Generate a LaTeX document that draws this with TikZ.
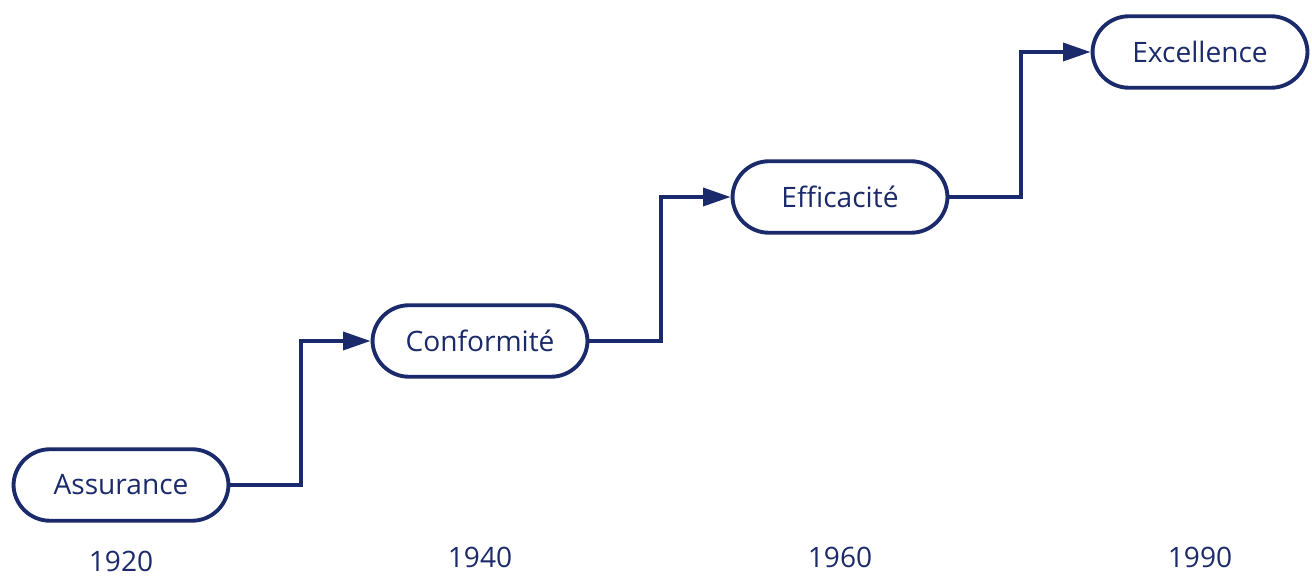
\documentclass[tikz,border=0pt]{standalone}
\usepackage{fontspec}
\setmainfont{Open Sans}
\usepackage{xcolor}
\usetikzlibrary{arrows.meta}
\usetikzlibrary{calc}
\usetikzlibrary{positioning}
\definecolor{navy}{HTML}{1B2A6B}

\begin{document}
\begin{tikzpicture}[->,>={Triangle[length=5.5mm,width=3.6mm]},line width=2pt,draw=navy]
 				 \tikzstyle{etape}=[rounded corners=0.73cm, draw=navy, fill=white, text=navy, line width=2.2pt,
 				                   minimum width=4.3cm, minimum height=1.43cm, font=\fontsize{16}{19}\selectfont]
 				 \tikzstyle{annee}=[text=navy, font=\fontsize{16}{19}\selectfont]
 				 \useasboundingbox (0,0) rectangle (26.24,11.52);
 					 \node[etape] (A) at (2.42,1.82)   {Assurance};
  					 \node[etape] (B) at (9.60,4.70)   {Conformité};
  					 \node[etape] (C) at (16.80,7.58)  {Efficacité};
  					 \node[etape] (D) at (24.00,10.48) {Excellence};
 					 \node[annee] (a1) at (2.42,0.30)  {1920};
 					 \node[annee] (a2) at (9.60,0.38)  {1940};
 					 \node[annee] (a3) at (16.80,0.38) {1960};
 					 \node[annee] (a4) at (24.00,0.38) {1990};
 					 \draw (A.east) -| (6.02,0 |- B.west) -- (B.west);
 					 \draw (B.east) -| (13.22,0 |- C.west) -- (C.west);
 					 \draw (C.east) -| (20.42,0 |- D.west) -- (D.west);
				\end{tikzpicture}
\end{document}
